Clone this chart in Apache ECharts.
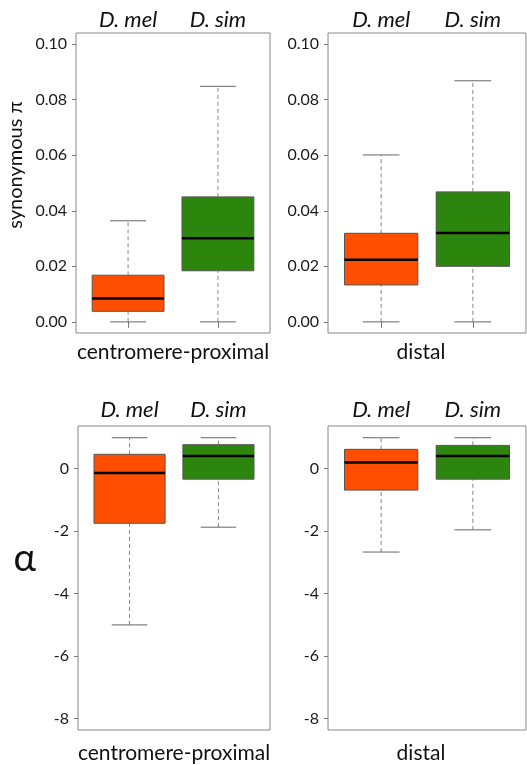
<!DOCTYPE html>
<html>
<head>
<meta charset="utf-8">
<script src="https://cdn.jsdelivr.net/npm/echarts@6/dist/echarts.min.js"></script>
<style>
  html, body { margin: 0; padding: 0; background: #fff; }
  #chart { width: 527px; height: 765px; }
</style>
</head>
<body>
<div id="chart"></div>
<script>
// species across each panel, regions below
const species = ['D. mel', 'D. sim']
const regions = ['centromere-proximal', 'distal']

// box stats per species: [min, q1, median, q3, max]
const piProximal = [[0, 0.0038, 0.0084, 0.0168, 0.0364], [0, 0.0184, 0.0301, 0.045, 0.0848]]
const piDistal = [[0, 0.0133, 0.0224, 0.0319, 0.0601], [0, 0.020, 0.032, 0.0468, 0.0868]]
const alphaProximal = [[-5.0, -1.75, -0.14, 0.455, 0.985], [-1.875, -0.34, 0.40, 0.763, 0.985]]
const alphaDistal = [[-2.67, -0.69, 0.19, 0.614, 0.985], [-1.96, -0.34, 0.40, 0.74, 0.985]]

const piTicks = [0, 0.02, 0.04, 0.06, 0.08, 0.10]
const alphaTicks = [-8, -6, -4, -2, 0]

const boxColors = ['#FF4E00', '#2C860E']
const font = 'Lato, "Open Sans", sans-serif'

// pixel layout of the 4 panels
const panels = [
  { left: 76, top: 33, width: 194, height: 300, data: piProximal, region: 0, pi: true },
  { left: 328, top: 33, width: 198, height: 300, data: piDistal, region: 1, pi: true },
  { left: 78, top: 426, width: 192, height: 305, data: alphaProximal, region: 0, pi: false },
  { left: 328, top: 426, width: 198, height: 305, data: alphaDistal, region: 1, pi: false }
]

function renderBox(params, api) {
  const x = api.value(0)
  const lo = api.coord([x, api.value(1)])
  const q1 = api.coord([x, api.value(2)])
  const md = api.coord([x, api.value(3)])
  const q3 = api.coord([x, api.value(4)])
  const hi = api.coord([x, api.value(5)])
  const half = api.size([0.4, 0])[0]
  const cap = half / 2
  const cx = md[0]
  const dash = { stroke: '#888', lineWidth: 1, lineDash: [4, 3] }
  const solid = { stroke: '#666', lineWidth: 1 }
  return {
    type: 'group',
    children: [
      { type: 'line', shape: { x1: cx, y1: q3[1], x2: cx, y2: hi[1] }, style: dash },
      { type: 'line', shape: { x1: cx, y1: lo[1], x2: cx, y2: q1[1] }, style: dash },
      { type: 'line', shape: { x1: cx - cap, y1: hi[1], x2: cx + cap, y2: hi[1] }, style: solid },
      { type: 'line', shape: { x1: cx - cap, y1: lo[1], x2: cx + cap, y2: lo[1] }, style: solid },
      {
        type: 'rect',
        shape: { x: cx - half, y: q3[1], width: half * 2, height: q1[1] - q3[1] },
        style: { fill: boxColors[params.dataIndex], stroke: '#555', lineWidth: 1 }
      },
      { type: 'line', shape: { x1: cx - half, y1: md[1], x2: cx + half, y2: md[1] }, style: { stroke: '#000', lineWidth: 2.5 } }
    ]
  }
}

const grid = []
const xAxis = []
const yAxis = []
const series = []

panels.forEach((p, i) => {
  grid.push({
    left: p.left, top: p.top, width: p.width, height: p.height,
    show: true, borderColor: '#888', borderWidth: 1, backgroundColor: 'transparent'
  })
  // bottom axis with region name
  xAxis.push({
    type: 'value', gridIndex: i, min: 0.42, max: 2.58, position: 'bottom',
    name: regions[p.region], nameLocation: 'middle', nameGap: p.pi ? 9 : 13,
    nameTextStyle: {
      fontFamily: font, fontSize: 21, color: '#111',
      padding: p.region === 1 ? [0, 12, 0, 0] : 0
    },
    axisLine: { show: false },
    axisTick: { show: true, length: 6, customValues: [1, 2], lineStyle: { color: '#777' } },
    axisLabel: { show: false },
    splitLine: { show: false }
  })
  // top axis with species names
  xAxis.push({
    type: 'value', gridIndex: i, min: 0.42, max: 2.58, position: 'top',
    axisLine: { show: false },
    axisTick: { show: false },
    axisLabel: {
      show: true, customValues: [1, 2], margin: p.pi ? 2 : 5,
      formatter: v => species[Math.round(v) - 1],
      fontFamily: font, fontSize: 22, fontStyle: 'italic', color: '#111'
    },
    splitLine: { show: false }
  })
  const ticks = p.pi ? piTicks : alphaTicks
  const y = {
    type: 'value', gridIndex: i,
    min: p.pi ? -0.004 : -8.36,
    max: p.pi ? 0.104 : 1.36,
    axisLine: { show: false },
    axisTick: { show: true, length: 4, customValues: ticks, lineStyle: { color: '#777' } },
    axisLabel: {
      show: true, customValues: ticks, margin: 9,
      formatter: v => p.pi ? v.toFixed(2) : String(Math.round(v)),
      fontFamily: font, fontSize: 16, color: '#1a1a1a'
    },
    splitLine: { show: false }
  }
  if (i === 0) {
    Object.assign(y, {
      name: 'synonymous π', nameLocation: 'middle', nameGap: 50, nameRotate: 90,
      nameTextStyle: { fontFamily: font, fontSize: 20, color: '#111', padding: [0, 0, 0, 36] }
    })
  }
  if (i === 2) {
    Object.assign(y, {
      name: 'α', nameLocation: 'middle', nameGap: 42, nameRotate: 0,
      nameTextStyle: { fontFamily: font, fontSize: 38, color: '#111', verticalAlign: 'bottom' }
    })
  }
  yAxis.push(y)
  series.push({
    type: 'custom',
    xAxisIndex: i * 2,
    yAxisIndex: i,
    renderItem: renderBox,
    encode: { x: 0, y: [1, 2, 3, 4, 5] },
    data: p.data.map((d, k) => [k + 1].concat(d)),
    silent: true
  })
})

const myChart = echarts.init(document.getElementById('chart'))
myChart.setOption({
  backgroundColor: '#fff',
  animation: false,
  grid: grid,
  xAxis: xAxis,
  yAxis: yAxis,
  series: series
})
</script>
</body>
</html>
